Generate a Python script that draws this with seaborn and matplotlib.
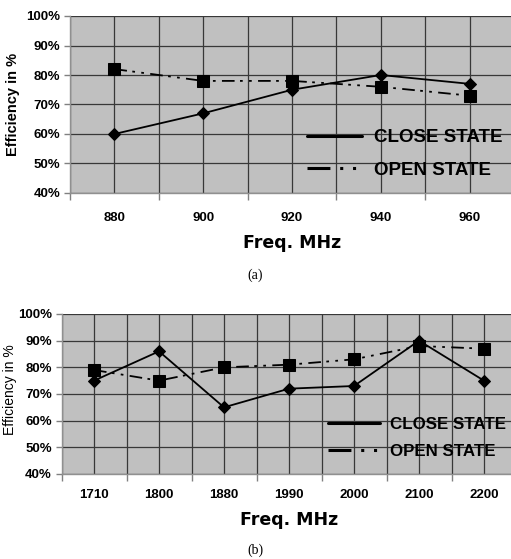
import matplotlib
matplotlib.use("Agg")
import matplotlib.pyplot as plt
from matplotlib.lines import Line2D
from matplotlib.ticker import FixedLocator, PercentFormatter
import seaborn as sns
import pandas as pd

# Band (a): GSM 900 range
freq_a = ["880", "900", "920", "940", "960"]
close_a = [60, 67, 75, 80, 77]
open_a = [82, 78, 78, 76, 73]

# Band (b): DCS / PCS / UMTS range
freq_b = ["1710", "1800", "1880", "1990", "2000", "2100", "2200"]
close_b = [75, 86, 65, 72, 73, 90, 75]
open_b = [79, 75, 80, 81, 83, 88, 87]

states = ["CLOSE STATE", "OPEN STATE"]
y_ticks = [40, 50, 60, 70, 80, 90, 100]

sns.set_theme(style="white")
plt.rcParams["font.family"] = ["Liberation Sans", "DejaVu Sans"]
plt.rcParams["text.color"] = "black"
plt.rcParams["axes.labelcolor"] = "black"

BG = "#c0c0c0"
GRID = "#383838"
OPEN_DASH = (7, 3, 1.5, 3.5, 1.5, 3.5)

fig = plt.figure(figsize=(5.11, 5.59), dpi=100)
ax_a = fig.add_axes([70 / 511, 1 - 193 / 559, 444 / 511, 177 / 559])
ax_b = fig.add_axes([61.5 / 511, 1 - 474 / 559, 455 / 511, 160 / 559])


def draw_panel(ax, freqs, close, opened, bold_y, xpad, legend_xy, legend_fs,
               legend_weight, line_len, spacing):
    df = pd.DataFrame({
        "freq": freqs * 2,
        "eff": close + opened,
        "state": [states[0]] * len(freqs) + [states[1]] * len(freqs),
    })
    sns.lineplot(data=df[df.state == states[0]], x="freq", y="eff", ax=ax,
                 color="black", lw=1.3, marker="D", markersize=6,
                 markeredgecolor="black", sort=False, legend=False)
    sns.lineplot(data=df[df.state == states[1]], x="freq", y="eff", ax=ax,
                 color="black", lw=1.3, marker="s", markersize=8,
                 markeredgecolor="black", sort=False, legend=False,
                 dashes=False)
    ax.lines[-1].set_dashes(OPEN_DASH)

    n = len(freqs)
    ax.set_facecolor(BG)
    ax.set_xlim(-0.5, n - 0.5)
    ax.set_ylim(40, 100)
    ax.yaxis.set_major_locator(FixedLocator(y_ticks))
    ax.yaxis.set_major_formatter(PercentFormatter(decimals=0))
    ax.xaxis.set_minor_locator(FixedLocator([i + 0.5 for i in range(-1, n)]))
    ax.grid(True, which="both", axis="x", color=GRID, lw=0.9)
    ax.grid(True, which="major", axis="y", color=GRID, lw=0.9)
    ax.set_axisbelow(True)
    for side in ("top", "right"):
        ax.spines[side].set_visible(False)
    for side in ("left", "bottom"):
        ax.spines[side].set_color("#909090")
        ax.spines[side].set_linewidth(1.0)

    ax.tick_params(axis="x", which="major", length=0, pad=xpad,
                   labelsize=9.5, labelcolor="black")
    ax.tick_params(axis="x", which="minor", length=5, width=1,
                   color="#808080", direction="out", bottom=True)
    ax.tick_params(axis="y", which="major", length=4, width=1,
                   color="#808080", direction="out", left=True,
                   pad=3, labelsize=9.5, labelcolor="black")
    for lbl in ax.get_xticklabels() + ax.get_yticklabels():
        lbl.set_fontweight("bold")

    ax.set_xlabel("Freq. MHz", fontsize=12.5, fontweight="bold",
                  family=["DejaVu Sans"], labelpad=7, color="black")
    ax.set_ylabel("Efficiency in %", fontsize=10.5 if bold_y else 10,
                  fontweight="bold" if bold_y else "normal", color="black")

    handles = [
        Line2D([], [], color="black", lw=2.2),
        Line2D([], [], color="black", lw=2.2, dashes=(7.5, 3.2, 1, 3.2, 1, 3.2)),
    ]
    leg = ax.legend(handles, states, loc="upper left",
                    bbox_to_anchor=legend_xy, frameon=False,
                    borderpad=0, borderaxespad=0,
                    handlelength=line_len, handletextpad=0.6,
                    labelspacing=spacing,
                    prop={"weight": legend_weight, "size": legend_fs})
    for t in leg.get_texts():
        t.set_color("black")


draw_panel(ax_a, freq_a, close_a, open_a, True, 14,
           (0.534, 0.36), 13.5, "bold", 2.95, 0.8)
draw_panel(ax_b, freq_b, close_b, open_b, False, 11,
           (0.586, 0.355), 12.2, "bold", 3.05, 0.72)

ax_a.yaxis.set_label_coords(-0.113, 0.5)
ax_b.yaxis.set_label_coords(-0.097, 0.53)

fig.text(0.5, 1 - 275 / 559, "(a)", ha="center", va="center",
         family=["Liberation Serif", "DejaVu Serif"], fontsize=10)
fig.text(0.5, 1 - 550 / 559, "(b)", ha="center", va="center",
         family=["Liberation Serif", "DejaVu Serif"], fontsize=10)

fig.savefig("out.png", dpi=100, facecolor="white")
